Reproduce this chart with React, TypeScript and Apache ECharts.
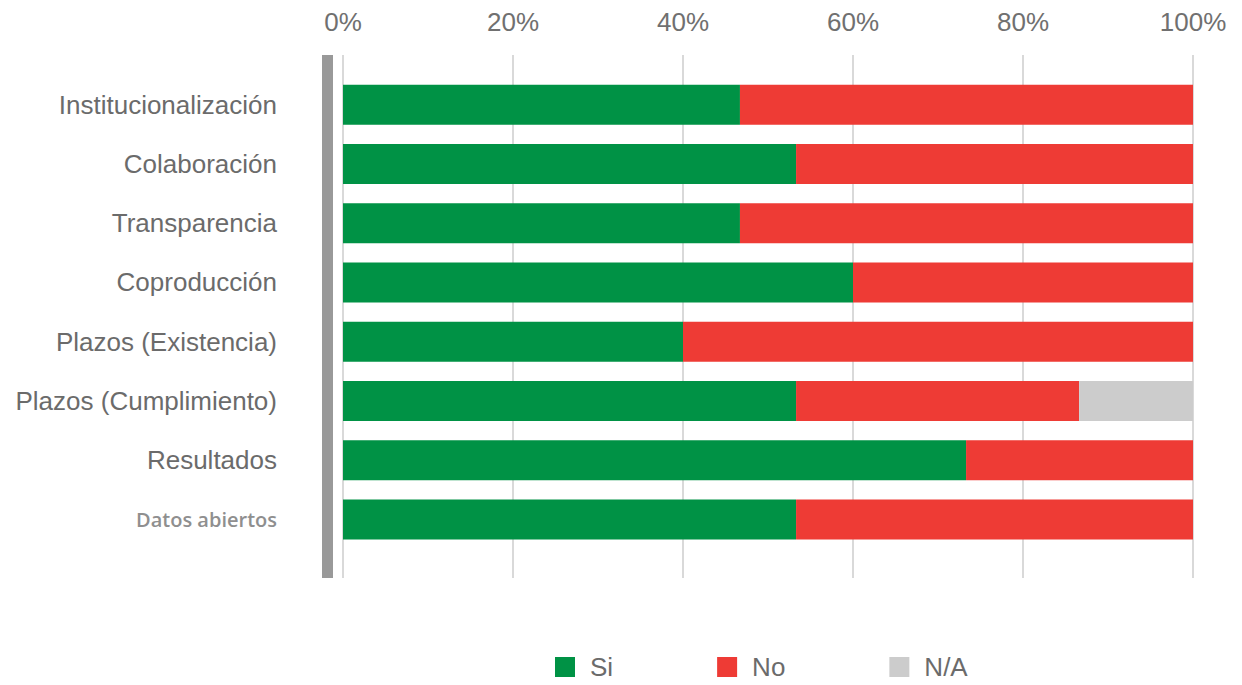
import React, { useEffect, useRef } from "react";
import * as echarts from "echarts";

const categories = [
  "Institucionalización",
  "Colaboración",
  "Transparencia",
  "Coproducción",
  "Plazos (Existencia)",
  "Plazos (Cumplimiento)",
  "Resultados",
  "Datos abiertos",
];
const siValues = [46.7, 53.3, 46.7, 60, 40, 53.3, 73.3, 53.3];
const noValues = [53.3, 46.7, 53.3, 40, 60, 33.3, 26.7, 46.7];
const naValues = [0, 0, 0, 0, 0, 13.4, 0, 0];
const seriesNames = ["Si", "No", "N/A"];
const colors = ["#009245", "#EE3B35", "#CCCCCC"];

export default function App() {
  const ref = useRef<HTMLDivElement>(null);
  useEffect(() => {
    const chart = echarts.init(ref.current!, null, { renderer: "svg" });
    const font = "'Liberation Sans', Arial, sans-serif";
    chart.setOption({
      animation: false,
      textStyle: { fontFamily: font },
      grid: [
        { left: 343, right: 49, top: 55, bottom: 107 },
        { left: 343, right: 49, top: 75, height: 474 },
      ],
      xAxis: [
        {
          gridIndex: 0,
          type: "value",
          position: "top",
          min: 0,
          max: 100,
          interval: 20,
          axisLine: { show: false },
          axisTick: { show: false },
          axisLabel: {
            formatter: "{value}%",
            fontSize: 26,
            fontFamily: font,
            color: "#707070",
            margin: 20,
          },
          splitLine: { show: true, lineStyle: { color: "#d9d9d9", width: 2 } },
        },
        {
          gridIndex: 1,
          type: "value",
          min: 0,
          max: 100,
          show: false,
        },
      ],
      yAxis: [
        {
          gridIndex: 0,
          type: "category",
          data: categories,
          inverse: true,
          offset: 16,
          axisLine: {
            show: true,
            onZero: false,
            lineStyle: { color: "#999999", width: 11, cap: "butt" },
          },
          axisTick: { show: false },
          axisLabel: { show: false },
        },
        {
          gridIndex: 1,
          type: "category",
          data: categories,
          inverse: true,
          axisLine: { show: false },
          axisTick: { show: false },
          axisLabel: {
            fontSize: 26,
            fontFamily: font,
            color: "#6b6b6b",
            margin: 66,
            formatter: (v: string) =>
              v === "Datos abiertos" ? "{d|" + v + "}" : v,
            rich: {
              d: {
                fontSize: 20,
                fontWeight: 600,
                color: "#8f8f8f",
                fontFamily: "'Open Sans', sans-serif",
              },
            },
          },
        },
      ],
      legend: {
        left: 555,
        top: 653,
        padding: 0,
        itemWidth: 20,
        itemHeight: 20,
        itemGap: 104,
        icon: "rect",
        textStyle: {
          fontSize: 26,
          lineHeight: 28,
          fontFamily: font,
          color: "#6b6b6b",
          padding: [0, 0, 0, 10],
        },
        data: seriesNames,
      },
      series: [siValues, noValues, naValues].map((vals, i) => ({
        name: seriesNames[i],
        type: "bar",
        stack: "total",
        xAxisIndex: 1,
        yAxisIndex: 1,
        barWidth: 40,
        itemStyle: { color: colors[i] },
        data: vals,
      })),
    });
    return () => chart.dispose();
  }, []);
  return (
    <div
      ref={ref}
      style={{ position: "absolute", left: 0, top: 0, width: 1242, height: 685 }}
    />
  );
}
